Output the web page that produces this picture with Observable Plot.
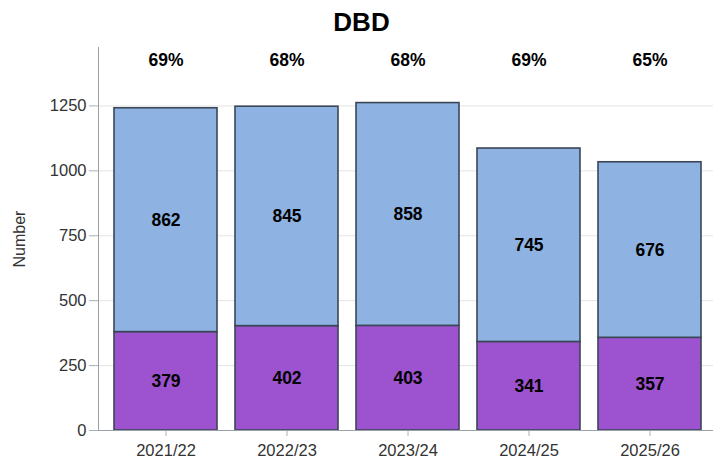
<!DOCTYPE html>
<html>
<head>
<meta charset="utf-8">
<script src="https://cdn.jsdelivr.net/npm/d3@7"></script>
<script src="https://cdn.jsdelivr.net/npm/@observablehq/plot@0.6"></script>
<style>
  body { margin: 0; background: #fff; font-family: "Liberation Sans", Arial, sans-serif; }
  #title { height: 40px; width: 713px; text-align: center; font-weight: bold; font-size: 26px; line-height: 44px; padding-left: 10px; box-sizing: border-box; color: #000; }
</style>
</head>
<body>
<div id="title">DBD</div>
<div id="chart"></div>
<script>
const years = ["2021/22", "2022/23", "2023/24", "2024/25", "2025/26"];
const bottomValues = [379, 402, 403, 341, 357];
const topValues = [862, 845, 858, 745, 676];
const yTicks = [0, 250, 500, 750, 1000, 1250];

const colorBottom = "#9d52cf";
const colorTop = "#8eb3e2";

const rows = [];
years.forEach((y, i) => {
  rows.push({year: y, part: "bottom", value: bottomValues[i]});
  rows.push({year: y, part: "top", value: topValues[i]});
});
const pct = years.map((y, i) => ({
  year: y,
  label: Math.round(topValues[i] / (topValues[i] + bottomValues[i]) * 100) + "%"
}));

const chart = Plot.plot({
  width: 713,
  height: 426,
  marginLeft: 98,
  marginRight: 0,
  marginTop: 7,
  marginBottom: 36,
  style: {fontFamily: "Liberation Sans, Arial, sans-serif", background: "#fff"},
  x: {domain: years, range: [104.5, 710], paddingInner: 0.15, paddingOuter: 0.075, label: null},
  y: {domain: [0, 1475], label: null},
  color: {domain: ["bottom", "top"], range: [colorBottom, colorTop]},
  marks: [
    Plot.gridY(yTicks, {stroke: "#e4e4e4", strokeOpacity: 1}),
    Plot.barY(rows, Plot.stackY({
      x: "year", y: "value", z: "part", fill: "part", order: ["bottom", "top"],
      stroke: "#3b4656", strokeWidth: 1.6
    })),
    Plot.text(rows, Plot.stackY({
      x: "year", y: "value", z: "part", order: ["bottom", "top"], text: d => String(d.value),
      fontSize: 17.5, fontWeight: "bold", fill: "#000", stroke: "none"
    })),
    Plot.text(pct, {
      x: "year", text: "label", frameAnchor: "top", lineAnchor: "middle", dy: 13,
      fontSize: 17.5, fontWeight: "bold", fill: "#000"
    }),
    Plot.axisY(yTicks, {
      tickSize: 9, tickPadding: 3, fontSize: 16.5, stroke: "#aab0b8", fill: "#333",
      tickFormat: d3.format("d"), label: null
    }),
    Plot.axisX({
      tickSize: 6, tickPadding: 8, fontSize: 16.5, stroke: "#aab0b8", fill: "#333", label: null
    }),
    Plot.frame({anchor: "left", stroke: "#9aa0a8"}),
    Plot.ruleY([0], {stroke: "#9aa0a8"}),
    Plot.text(["Number"], {
      frameAnchor: "left", textAnchor: "middle", lineAnchor: "middle", dx: -79, rotate: -90,
      fontSize: 16, fill: "#333", text: d => d
    })
  ]
});
document.getElementById("chart").appendChild(chart);
</script>
</body>
</html>
